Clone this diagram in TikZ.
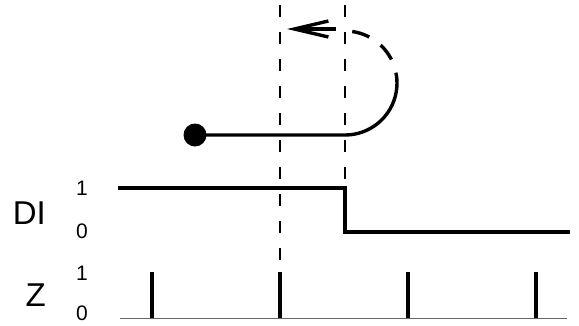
\documentclass[tikz,border=0pt]{standalone}
\usepackage{fontspec}
\setmainfont{Liberation Sans}
\usetikzlibrary{arrows.meta}
\tikzset{sig/.style={line width=3.8pt},
         guia/.style={line width=2.2pt,dash pattern=on 12pt off 15pt},
         pulso/.style={line width=4.2pt},
         big/.style={font=\fontsize{33}{33}\selectfont,anchor=east,inner sep=0},
         lvl/.style={font=\fontsize{21}{21}\selectfont,inner sep=0}}

\begin{document}
\begin{tikzpicture}[x=1pt,y=-1pt]
  \useasboundingbox (0,0) rectangle (579,325);
  \coordinate (t1) at (280,5);  \coordinate (b1) at (280,268);
  \coordinate (t2) at (345,5);  \coordinate (b2) at (345,184);
  \draw[guia] (t1) -- (b1);
  \draw[guia] (t2) -- (b2);
  \node[circle,fill,minimum size=23pt,inner sep=0] (punto) at (195,135) {};
  \coordinate (giro) at (345,135);
  \draw[sig,line width=3.4pt] (punto.center) -- (giro)
       arc[start angle=90,end angle=-10,radius=52] coordinate (curva);
  \draw[line width=3.4pt,dash pattern=on 18pt off 14pt] (345,83) ++(-82:52) coordinate (arriba)
       arc[start angle=-82,end angle=-10,radius=52];
  \coordinate (fini) at (336,29); \coordinate (ffin) at (287,29);
  \draw[line width=3.4pt,-{Straight Barb[length=34pt,width=16pt]}] (fini) -- (ffin);
  \node[big] (di) at (46,213) {DI};
  \node[big] (z) at (46,295) {Z};
  \node[lvl] at (82,188) {1};
  \node[lvl] at (82,231) {0};
  \node[lvl] at (82,273) {1};
  \node[lvl] at (82,313) {0};
  \draw[sig] (118,188) -- (345,188) -- (345,232) -- (570,232);
  \draw[line width=1pt,black!60] (120,318) -- (567,318);
  \foreach \x in {152,280,408,536} \draw[pulso] (\x,272) -- (\x,318);
\end{tikzpicture}
\end{document}
